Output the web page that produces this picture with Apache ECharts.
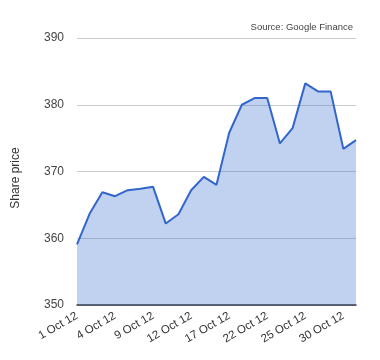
<!DOCTYPE html>
<html>
<head>
<meta charset="utf-8">
<script src="https://cdn.jsdelivr.net/npm/echarts@6/dist/echarts.min.js"></script>
<style>html,body{margin:0;padding:0;background:#fff;}#c{width:380px;height:360px;}</style>
</head>
<body>
<div id="c"></div>
<script>
var dates = ["1 Oct 12","2 Oct 12","3 Oct 12","4 Oct 12","5 Oct 12","8 Oct 12","9 Oct 12","10 Oct 12","11 Oct 12","12 Oct 12","15 Oct 12","16 Oct 12","17 Oct 12","18 Oct 12","19 Oct 12","22 Oct 12","23 Oct 12","24 Oct 12","25 Oct 12","26 Oct 12","29 Oct 12","30 Oct 12","31 Oct 12"];
var prices = [359.1,363.7,366.9,366.3,367.2,367.4,367.7,362.2,363.6,367.2,369.2,368.0,375.8,380.0,381.0,381.0,374.2,376.5,383.2,382.0,382.0,373.4,374.7];
var yTicks = [350,360,370,380,390];

var chart = echarts.init(document.getElementById('c'), null, {renderer:'canvas'});
chart.setOption({
  animation:false,
  backgroundColor:'#fff',
  title:{text:'Source: Google Finance', right:27, top:22, padding:0, textStyle:{fontSize:9.5, fontWeight:'normal', color:'#444', fontFamily:'Liberation Sans, Arial'}},
  grid:{left:77, right:24, top:38, bottom:55, containLabel:false, outerBoundsMode:'none'},
  xAxis:{
    type:'category', data:dates, boundaryGap:false,
    axisLine:{show:true, lineStyle:{color:'#333', width:1.5}},
    axisTick:{show:false},
    axisLabel:{interval:2, rotate:30, color:'#333', fontSize:11.5, fontFamily:'Liberation Sans, Arial', margin:10},
    splitLine:{show:false}
  },
  yAxis:{
    type:'value', min:yTicks[0], max:yTicks[yTicks.length-1], interval:10,
    axisLine:{show:false}, axisTick:{show:false},
    axisLabel:{color:'#444', fontSize:12, fontFamily:'Liberation Sans, Arial', margin:13},
    splitLine:{lineStyle:{color:'#ccc', width:1}}
  },
  graphic:[{
    type:'text', x:16, y:178, rotation:Math.PI/2,
    style:{text:'Share price', fill:'#333', fontSize:12, fontFamily:'Liberation Sans, Arial', align:'center', verticalAlign:'middle'}
  }],
  series:[{
    type:'line', data:prices, symbol:'none',
    lineStyle:{color:'#3366cc', width:2},
    itemStyle:{color:'#3366cc'},
    areaStyle:{color:'#3366cc', opacity:0.3}
  }]
});
</script>
</body>
</html>
